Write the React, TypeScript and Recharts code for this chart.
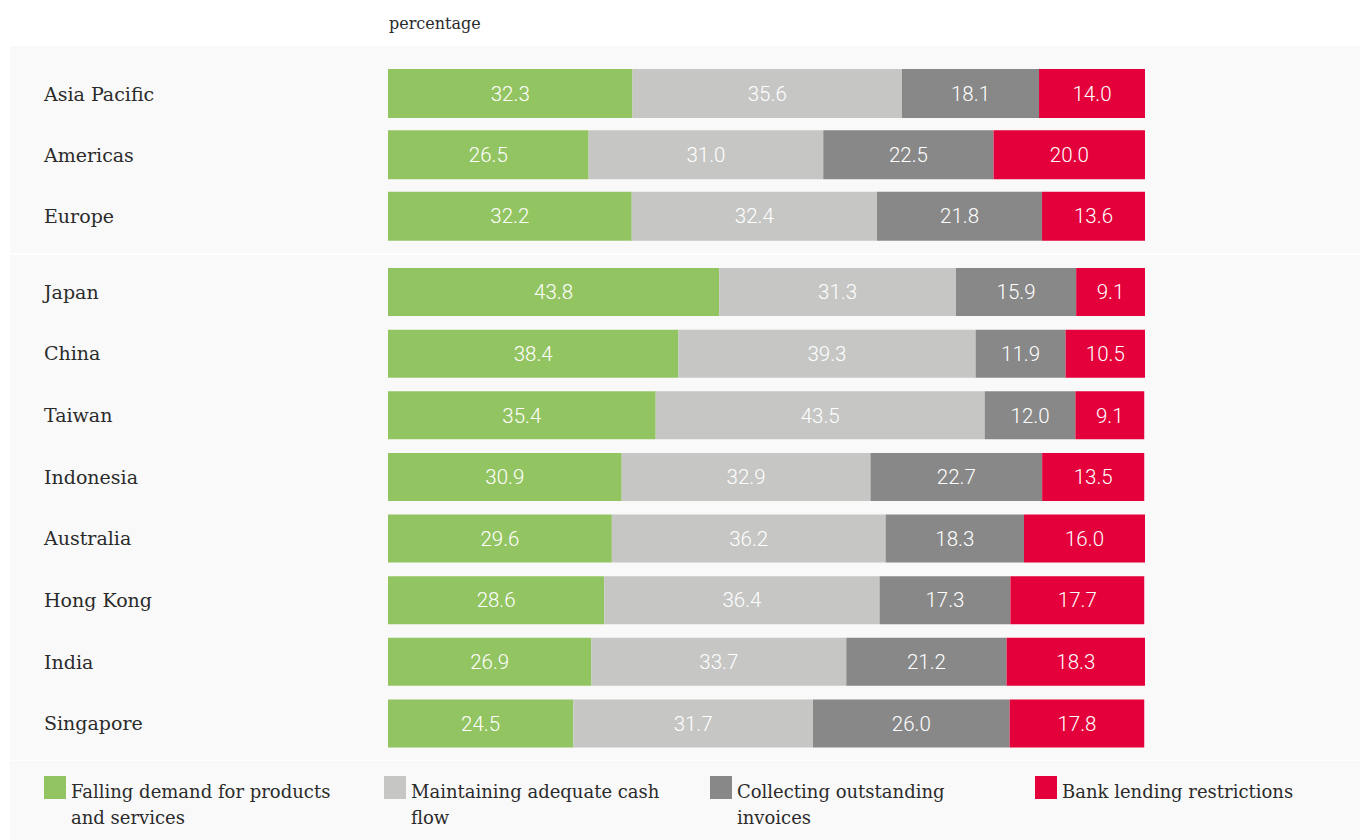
import { Bar, BarChart, LabelList, XAxis, YAxis } from "recharts";

const regions = ["Asia Pacific", "Americas", "Europe"];
const markets = ["Japan", "China", "Taiwan", "Indonesia", "Australia", "Hong Kong", "India", "Singapore"];

// values in order: regions then markets
const fallingDemand = [32.3, 26.5, 32.2, 43.8, 38.4, 35.4, 30.9, 29.6, 28.6, 26.9, 24.5];
const cashFlow = [35.6, 31.0, 32.4, 31.3, 39.3, 43.5, 32.9, 36.2, 36.4, 33.7, 31.7];
const invoices = [18.1, 22.5, 21.8, 15.9, 11.9, 12.0, 22.7, 18.3, 17.3, 21.2, 26.0];
const bankLending = [14.0, 20.0, 13.6, 9.1, 10.5, 9.1, 13.5, 16.0, 17.7, 18.3, 17.8];

const series = [
  { key: "demand", label: "Falling demand for products and services", color: "#93c462", values: fallingDemand },
  { key: "cash", label: "Maintaining adequate cash flow", color: "#c6c6c4", values: cashFlow },
  { key: "invoices", label: "Collecting outstanding invoices", color: "#888888", values: invoices },
  { key: "bank", label: "Bank lending restrictions", color: "#e4003a", values: bankLending },
];

const legendX = [44, 384, 710, 1035];

const rows = (names: string[], offset: number) =>
  names.map((name, i) => {
    const row: Record<string, string | number> = { name };
    series.forEach((s) => (row[s.key] = s.values[offset + i]));
    return row;
  });

const LabelTick = ({ y, payload }: any) => (
  <text x={34} y={y} dy={7} fill="#2b2b2b" fontSize={19} fontFamily="DejaVu Serif, serif" textAnchor="start">
    {payload.value}
  </text>
);

function Group({ data, height, barSize, top, bottom }: { data: any[]; height: number; barSize: number; top: number; bottom: number }) {
  return (
    <BarChart width={1350} height={height} data={data} layout="vertical" margin={{ top, right: 215, bottom, left: 0 }}>
      <XAxis type="number" domain={[0, 100]} hide />
      <YAxis type="category" dataKey="name" width={378} axisLine={false} tickLine={false} tick={<LabelTick />} />
      {series.map((s) => (
        <Bar key={s.key} dataKey={s.key} stackId="a" fill={s.color} barSize={barSize} isAnimationActive={false}>
          <LabelList
            dataKey={s.key}
            position="center"
            fill="#ffffff"
            fontSize={20.5}
            fontFamily="Roboto, sans-serif"
            fontWeight={300}
            formatter={(v: any) => Number(v).toFixed(1)}
          />
        </Bar>
      ))}
    </BarChart>
  );
}

export default function App() {
  return (
    <div style={{ position: "absolute", left: 0, top: 0, width: 1360, height: 840, background: "#fff", overflow: "hidden" }}>
      <div style={{ position: "absolute", left: 389, top: 14, fontFamily: "DejaVu Serif, serif", fontSize: 16, color: "#2b2b2b" }}>
        percentage
      </div>
      <div style={{ position: "absolute", left: 10, top: 46, width: 1350, height: 207, background: "#f9f9f9" }}>
        <Group data={rows(regions, 0)} height={207} barSize={49} top={17} bottom={6} />
      </div>
      <div style={{ position: "absolute", left: 10, top: 255, width: 1350, height: 505, background: "#f9f9f9" }}>
        <Group data={rows(markets, regions.length)} height={505} barSize={48} top={6} bottom={6} />
      </div>
      <div style={{ position: "absolute", left: 10, top: 761, width: 1350, height: 79, background: "#f9f9f9" }}>
        {series.map((s, i) => (
          <div key={s.key} style={{ position: "absolute", left: legendX[i] - 10, top: 15, display: "flex" }}>
            <div style={{ width: 22, height: 23, background: s.color, flex: "none" }} />
            <div
              style={{
                width: 270,
                marginLeft: 5,
                marginTop: 3,
                fontFamily: "DejaVu Serif, serif",
                fontSize: 18,
                lineHeight: "26px",
                color: "#2b2b2b",
              }}
            >
              {s.label}
            </div>
          </div>
        ))}
      </div>
    </div>
  );
}
